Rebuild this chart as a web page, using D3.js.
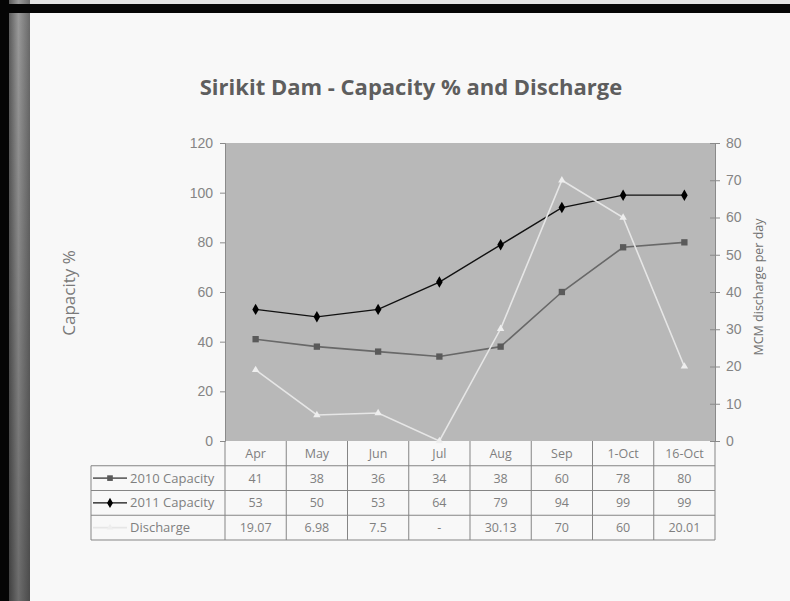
<!DOCTYPE html>
<html>
<head>
<meta charset="utf-8">
<script src="https://cdn.jsdelivr.net/npm/d3@7"></script>
<style>
  html, body { margin: 0; padding: 0; background: #f7f7f7; }
  svg { display: block; }
  text { font-family: "Open Sans", Lato, "Noto Sans", sans-serif; }
</style>
</head>
<body>
<svg id="chart" width="790" height="601"></svg>
<script>
// Monthly readings for Sirikit Dam
const categories = ["Apr", "May", "Jun", "Jul", "Aug", "Sep", "1-Oct", "16-Oct"];
const capacity2010 = [41, 38, 36, 34, 38, 60, 78, 80];
const capacity2011 = [53, 50, 53, 64, 79, 94, 99, 99];
const discharge = [19.07, 6.98, 7.5, 0, 30.13, 70, 60, 20.01];
const leftTicks = [0, 20, 40, 60, 80, 100, 120];
const rightTicks = [0, 10, 20, 30, 40, 50, 60, 70, 80];

const svg = d3.select("#chart");
const W = 790, H = 601;

// ---- slide frame ----
const defs = svg.append("defs");
const edge = defs.append("linearGradient").attr("id", "edge").attr("x1", 0).attr("x2", 1).attr("y1", 0).attr("y2", 0);
edge.append("stop").attr("offset", "0%").attr("stop-color", "#5c5c5c");
edge.append("stop").attr("offset", "45%").attr("stop-color", "#9a9a9a");
edge.append("stop").attr("offset", "100%").attr("stop-color", "#6a6a6a");
const edgeShade = defs.append("linearGradient").attr("id", "edgeShade").attr("x1", 0).attr("x2", 0).attr("y1", 0).attr("y2", 1);
edgeShade.append("stop").attr("offset", "0%").attr("stop-color", "#000").attr("stop-opacity", 0);
edgeShade.append("stop").attr("offset", "100%").attr("stop-color", "#000").attr("stop-opacity", 0.3);

svg.append("rect").attr("width", W).attr("height", H).attr("fill", "#f8f8f8");
svg.append("rect").attr("x", 0).attr("y", 0).attr("width", W).attr("height", 4).attr("fill", "#e2e2e2");
svg.append("rect").attr("x", 0).attr("y", 4).attr("width", W).attr("height", 9).attr("fill", "#050505");
svg.append("rect").attr("x", 9).attr("y", 0).attr("width", 21).attr("height", H).attr("fill", "url(#edge)");
svg.append("rect").attr("x", 9).attr("y", 0).attr("width", 21).attr("height", H).attr("fill", "url(#edgeShade)");
svg.append("rect").attr("x", 9).attr("y", 4).attr("width", 21).attr("height", 9).attr("fill", "#050505");
svg.append("rect").attr("x", 0).attr("y", 0).attr("width", 9).attr("height", H).attr("fill", "#050505");

// ---- plot geometry ----
const plot = { left: 225, right: 715, top: 143, bottom: 441 };
const x = d3.scaleBand().domain(categories).range([plot.left, plot.right]);
const yLeft = d3.scaleLinear().domain([0, 120]).range([plot.bottom, plot.top]);
const yRight = d3.scaleLinear().domain([0, 80]).range([plot.bottom, plot.top]);
const cx = d => x(d) + x.bandwidth() / 2;

// title
svg.append("text")
  .attr("x", 411).attr("y", 95)
  .attr("text-anchor", "middle")
  .attr("font-size", 22).attr("font-weight", "bold")
  .attr("fill", "#5e5e5e")
  .text("Sirikit Dam - Capacity % and Discharge");

// plot background
svg.append("rect")
  .attr("x", plot.left).attr("y", plot.top)
  .attr("width", plot.right - plot.left).attr("height", plot.bottom - plot.top)
  .attr("fill", "#b8b8b8");

const tickFont = "'Liberation Sans', Arial, sans-serif";
// left axis
const gL = svg.append("g").attr("transform", `translate(${plot.left},0)`)
  .call(d3.axisLeft(yLeft).tickValues(leftTicks).tickSize(5).tickPadding(7));
gL.select(".domain").attr("stroke", "#8a8a8a");
gL.selectAll(".tick line").attr("stroke", "#8a8a8a");
gL.selectAll(".tick text").attr("fill", "#858585").attr("font-size", 14)
  .style("font-family", tickFont);

// right axis
const gR = svg.append("g").attr("transform", `translate(${plot.right},0)`)
  .call(d3.axisRight(yRight).tickValues(rightTicks).tickSize(5).tickPadding(6));
gR.select(".domain").attr("stroke", "#8a8a8a");
gR.selectAll(".tick line").attr("stroke", "#8a8a8a").attr("x1", -5);
gR.selectAll(".tick text").attr("fill", "#858585").attr("font-size", 14)
  .style("font-family", tickFont);

// axis titles
svg.append("text")
  .attr("transform", "translate(75,293) rotate(-90)")
  .attr("text-anchor", "middle").attr("font-size", 17).attr("fill", "#7a7a7a")
  .text("Capacity %");
svg.append("text")
  .attr("transform", "translate(763,287) rotate(-90)")
  .attr("text-anchor", "middle").attr("font-size", 12.5).attr("fill", "#707070")
  .text("MCM discharge per day");

// ---- series ----
const series = [
  { name: "2010 Capacity", values: capacity2010, scale: yLeft, color: "#686868", width: 1.6, marker: d3.symbolSquare, size: 40, fill: "#5a5a5a" },
  { name: "2011 Capacity", values: capacity2011, scale: yLeft, color: "#111111", width: 1.4, marker: d3.symbolDiamond, size: 38, fill: "#000000" },
  { name: "Discharge", values: discharge, scale: yRight, color: "#e6e6e6", width: 1.6, marker: d3.symbolTriangle, size: 24, fill: "#eeeeee" }
];

const gSeries = svg.append("g");
series.forEach(s => {
  const pts = categories.map((c, i) => [cx(c), s.scale(s.values[i])]);
  gSeries.append("path")
    .attr("d", d3.line()(pts))
    .attr("fill", "none").attr("stroke", s.color).attr("stroke-width", s.width);
  gSeries.selectAll(null).data(pts).enter().append("path")
    .attr("transform", d => `translate(${d[0]},${d[1]})`)
    .attr("d", d3.symbol().type(s.marker).size(s.size))
    .attr("fill", s.fill);
});

// ---- data table ----
const table = { left: 91, rowH: 24.75 };
const gT = svg.append("g");
const lineCol = "#858585";
const rows = series.length;
const tableBottom = plot.bottom + table.rowH * (rows + 1);

// horizontal rules
for (let r = 1; r <= rows + 1; r++) {
  const yy = plot.bottom + table.rowH * r;
  gT.append("line").attr("x1", table.left).attr("x2", plot.right)
    .attr("y1", yy).attr("y2", yy).attr("stroke", lineCol).attr("stroke-width", 1);
}
// vertical rules
categories.forEach(c => {
  gT.append("line").attr("x1", x(c)).attr("x2", x(c))
    .attr("y1", plot.bottom).attr("y2", tableBottom).attr("stroke", lineCol);
});
gT.append("line").attr("x1", plot.right).attr("x2", plot.right)
  .attr("y1", plot.bottom).attr("y2", tableBottom).attr("stroke", lineCol);
gT.append("line").attr("x1", table.left).attr("x2", table.left)
  .attr("y1", plot.bottom + table.rowH).attr("y2", tableBottom).attr("stroke", lineCol);

const cellFont = "'Open Sans', 'Noto Sans', sans-serif";
const cellSize = 12.5;
// category headers
categories.forEach(c => {
  gT.append("text").attr("x", cx(c)).attr("y", plot.bottom + table.rowH / 2 + 4.5)
    .attr("text-anchor", "middle").attr("font-size", cellSize).attr("fill", "#7f7f7f")
    .style("font-family", cellFont).text(c);
});

const fmt = v => v === 0 ? "-" : String(v);
series.forEach((s, r) => {
  const yMid = plot.bottom + table.rowH * (r + 1) + table.rowH / 2;
  // legend key
  gT.append("line").attr("x1", 93).attr("x2", 127).attr("y1", yMid).attr("y2", yMid)
    .attr("stroke", s.color).attr("stroke-width", s.width);
  gT.append("path").attr("transform", `translate(110,${yMid})`)
    .attr("d", d3.symbol().type(s.marker).size(s.size * 0.8)).attr("fill", s.fill);
  gT.append("text").attr("x", 130).attr("y", yMid + 4.5)
    .attr("font-size", 13).attr("fill", "#7f7f7f").style("font-family", cellFont).text(s.name);
  // values
  categories.forEach((c, i) => {
    gT.append("text").attr("x", cx(c)).attr("y", yMid + 4.5)
      .attr("text-anchor", "middle").attr("font-size", cellSize).attr("fill", "#7f7f7f")
      .style("font-family", cellFont).text(fmt(s.values[i]));
  });
});
</script>
</body>
</html>
